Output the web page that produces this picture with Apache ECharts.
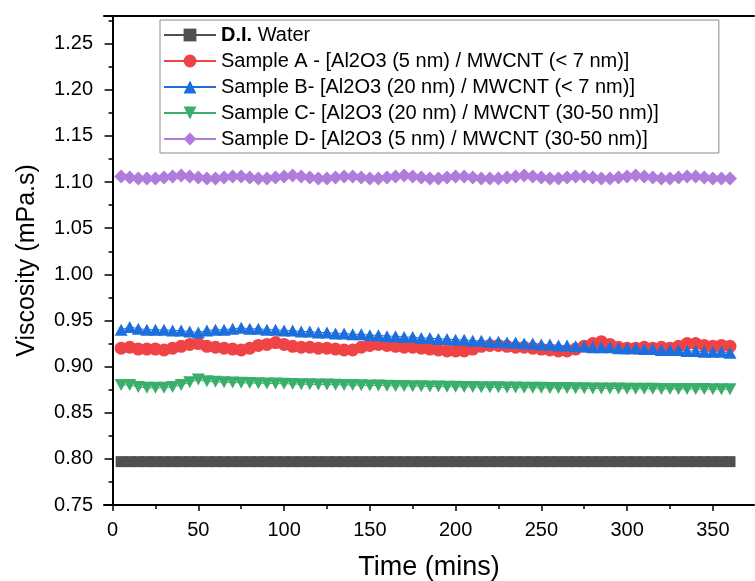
<!DOCTYPE html>
<html>
<head>
<meta charset="utf-8">
<script src="https://cdn.jsdelivr.net/npm/echarts@6/dist/echarts.min.js"></script>
<style>html,body{margin:0;padding:0;background:#fff}#c{width:755px;height:581px}</style>
</head>
<body>
<div id="c"></div>
<script>
const times = [5,10,15,20,25,30,35,40,45,50,55,60,65,70,75,80,85,90,95,100,105,110,115,120,125,130,135,140,145,150,155,160,165,170,175,180,185,190,195,200,205,210,215,220,225,230,235,240,245,250,255,260,265,270,275,280,285,290,295,300,305,310,315,320,325,330,335,340,345,350,355,360];

const diWater = [0.797,0.797,0.797,0.797,0.797,0.797,0.797,0.797,0.797,0.797,0.797,0.797,0.797,0.797,0.797,0.797,0.797,0.797,0.797,0.797,0.797,0.797,0.797,0.797,0.797,0.797,0.797,0.797,0.797,0.797,0.797,0.797,0.797,0.797,0.797,0.797,0.797,0.797,0.797,0.797,0.797,0.797,0.797,0.797,0.797,0.797,0.797,0.797,0.797,0.797,0.797,0.797,0.797,0.797,0.797,0.797,0.797,0.797,0.797,0.797,0.797,0.797,0.797,0.797,0.797,0.797,0.797,0.797,0.797,0.797,0.797,0.797];

const sampleA = [0.920,0.921,0.919,0.919,0.919,0.918,0.920,0.922,0.924,0.925,0.922,0.921,0.920,0.919,0.918,0.920,0.923,0.924,0.926,0.924,0.922,0.921,0.921,0.920,0.920,0.919,0.918,0.918,0.921,0.923,0.924,0.923,0.922,0.921,0.921,0.920,0.919,0.918,0.917,0.917,0.917,0.919,0.922,0.923,0.923,0.922,0.921,0.921,0.920,0.919,0.918,0.917,0.917,0.919,0.922,0.925,0.927,0.924,0.921,0.920,0.920,0.921,0.920,0.921,0.920,0.922,0.925,0.925,0.923,0.922,0.923,0.922];

const sampleB = [0.940,0.943,0.941,0.940,0.940,0.940,0.939,0.939,0.938,0.937,0.939,0.940,0.940,0.941,0.942,0.941,0.941,0.940,0.940,0.939,0.939,0.938,0.938,0.937,0.937,0.936,0.936,0.935,0.935,0.934,0.934,0.933,0.933,0.932,0.932,0.931,0.931,0.930,0.930,0.929,0.929,0.928,0.928,0.927,0.927,0.926,0.926,0.925,0.925,0.924,0.924,0.923,0.923,0.922,0.922,0.921,0.921,0.921,0.920,0.920,0.920,0.919,0.919,0.918,0.918,0.918,0.917,0.917,0.916,0.916,0.916,0.915];

const sampleC = [0.880,0.880,0.878,0.877,0.877,0.877,0.878,0.880,0.883,0.886,0.884,0.8835,0.883,0.8828,0.8825,0.8823,0.882,0.8818,0.8816,0.8814,0.8812,0.881,0.8808,0.8806,0.8805,0.8803,0.8801,0.880,0.8798,0.8796,0.8795,0.8793,0.8791,0.879,0.8788,0.8787,0.8785,0.8784,0.8782,0.8781,0.878,0.8778,0.8777,0.8776,0.8775,0.8774,0.8773,0.8772,0.8771,0.877,0.8769,0.8768,0.8767,0.8766,0.8765,0.8764,0.8763,0.8763,0.8762,0.8761,0.876,0.876,0.8759,0.8758,0.8758,0.8757,0.8757,0.8756,0.8756,0.8755,0.8755,0.8754];

const sampleD = [1.106,1.105,1.104,1.104,1.104,1.105,1.106,1.107,1.106,1.105,1.104,1.104,1.105,1.106,1.106,1.105,1.104,1.104,1.105,1.106,1.107,1.106,1.105,1.104,1.104,1.105,1.106,1.106,1.105,1.104,1.104,1.105,1.106,1.107,1.106,1.105,1.104,1.104,1.105,1.106,1.106,1.105,1.104,1.104,1.104,1.105,1.106,1.107,1.106,1.105,1.104,1.104,1.105,1.106,1.106,1.105,1.104,1.104,1.105,1.106,1.107,1.106,1.105,1.104,1.104,1.105,1.106,1.106,1.105,1.104,1.104,1.104];

const seriesNames = ['D.I. Water','Sample A - [Al2O3 (5 nm) / MWCNT (< 7 nm)]','Sample B- [Al2O3 (20 nm) / MWCNT (< 7 nm)]','Sample C- [Al2O3 (20 nm) / MWCNT (30-50 nm)]','Sample D- [Al2O3 (5 nm) / MWCNT (30-50 nm)]'];

const xMajorTicks = [0,50,100,150,200,250,300,350];
const xMinorTicks = [25,75,125,175,225,275,325];
const yMajorTicks = [0.75,0.80,0.85,0.90,0.95,1.00,1.05,1.10,1.15,1.20,1.25];
const yMinorTicks = [0.775,0.825,0.875,0.925,0.975,1.025,1.075,1.125,1.175,1.225,1.275];

const pair = (ys) => times.map((t, i) => [t, ys[i]]);

const styles = [
  {data: diWater, color: '#505050', symbol: 'rect', size: 11, rotate: 0},
  {data: sampleA, color: '#f04346', symbol: 'circle', size: 13, rotate: 0},
  {data: sampleB, color: '#1c6fdc', symbol: 'triangle', size: [13, 12], rotate: 0},
  {data: sampleC, color: '#3aae6b', symbol: 'triangle', size: [13, 12], rotate: 180},
  {data: sampleD, color: '#b07cdc', symbol: 'diamond', size: 14, rotate: 0}
];

const chart = echarts.init(document.getElementById('c'), null, {renderer: 'canvas'});
const FONT = '"Liberation Sans", Arial, sans-serif';

chart.setOption({
  animation: false,
  backgroundColor: '#fff',
  textStyle: {fontFamily: FONT},
  grid: {left: 104, right: 1, top: 16, bottom: 76, containLabel: false, outerBoundsMode: 'none'},
  legend: {
    orient: 'vertical',
    left: 160, top: 20,
    padding: [5, 60, 4, 3],
    borderColor: '#8a8a8a', borderWidth: 1,
    itemWidth: 52, itemHeight: 16, itemGap: 6,
    textStyle: {fontFamily: FONT, fontSize: 20, color: '#000', lineHeight: 20,
      rich: {b: {fontFamily: FONT, fontSize: 20, fontWeight: 'bold', color: '#000'}, n: {fontFamily: FONT, fontSize: 20, color: '#000'}}},
    formatter: (name) => name === 'D.I. Water' ? '{b|D.I.}{n| Water}' : name,
    data: seriesNames
  },
  xAxis: [
    {type: 'value', position: 'bottom', min: -5, max: 374,
     name: 'Time (mins)', nameLocation: 'middle', nameGap: 49,
     nameTextStyle: {fontFamily: FONT, fontSize: 27, color: '#000'},
     axisLine: {show: true, lineStyle: {color: '#000', width: 2}},
     axisTick: {show: true, customValues: xMajorTicks, length: 6, lineStyle: {color: '#000', width: 1.5}},
     axisLabel: {show: true, customValues: xMajorTicks, margin: 15, fontFamily: FONT, fontSize: 20, color: '#000'},
     splitLine: {show: false}},
    {type: 'value', position: 'bottom', min: -5, max: 374,
     axisLine: {show: false},
     axisTick: {show: true, customValues: xMinorTicks, length: 4, lineStyle: {color: '#000', width: 1.5}},
     axisLabel: {show: false}, splitLine: {show: false}},
    {type: 'value', position: 'top', min: -5, max: 374,
     axisLine: {show: true, lineStyle: {color: '#000', width: 2}},
     axisTick: {show: false}, axisLabel: {show: false}, splitLine: {show: false}}
  ],
  yAxis: [
    {type: 'value', position: 'left', min: 0.75, max: 1.28,
     name: 'Viscosity (mPa.s)', nameLocation: 'middle', nameGap: 64, nameRotate: 90,
     nameTextStyle: {fontFamily: FONT, fontSize: 25, color: '#000'},
     axisLine: {show: true, lineStyle: {color: '#000', width: 2}},
     axisTick: {show: true, customValues: yMajorTicks, length: 8, lineStyle: {color: '#000', width: 1.5}},
     axisLabel: {show: true, customValues: yMajorTicks, margin: 11, fontFamily: FONT, fontSize: 20, color: '#000',
       formatter: (v) => v.toFixed(2)},
     splitLine: {show: false}},
    {type: 'value', position: 'left', min: 0.75, max: 1.28,
     axisLine: {show: false},
     axisTick: {show: true, customValues: yMinorTicks, length: 4, lineStyle: {color: '#000', width: 1.5}},
     axisLabel: {show: false}, splitLine: {show: false}}
  ],
  series: styles.map((s, i) => ({
    name: seriesNames[i], type: 'line', xAxisIndex: 0, yAxisIndex: 0,
    data: pair(s.data),
    symbol: s.symbol, symbolSize: s.size, symbolRotate: s.rotate, showSymbol: true,
    lineStyle: {color: s.color, width: 1},
    itemStyle: {color: s.color, borderWidth: 0},
    emphasis: {disabled: true}
  }))
});
</script>
</body>
</html>
